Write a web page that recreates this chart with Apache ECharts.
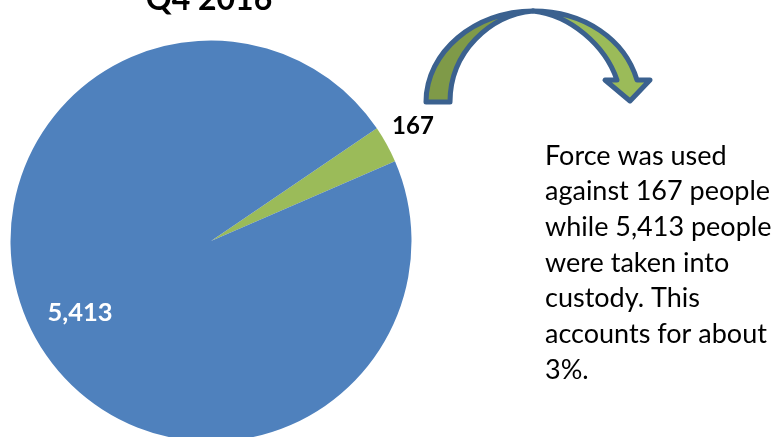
<!DOCTYPE html>
<html>
<head>
<meta charset="utf-8">
<style>html,body{margin:0;padding:0;background:#fff}#c{width:774px;height:437px;overflow:hidden}</style>
<script src="https://cdn.jsdelivr.net/npm/echarts@6/dist/echarts.min.js"></script>
</head>
<body>
<div id="c"></div>
<script>
var categories = ['Force used', 'Taken into custody'];
var values = [167, 5413];
var valueLabels = ['167', '5,413'];
var titleText = 'Q4 2016';
var noteLines = ['Force was used', 'against 167 people', 'while 5,413 people', 'were taken into', 'custody. This', 'accounts for about', '3%.'];
var colors = ['#9BBB59', '#4F81BD'];
var FONT = 'Lato, "Open Sans", sans-serif';

echarts.graphic.registerShape('arrowTail', echarts.graphic.extendPath(
  'M426,102 C426,52 475,11 533,11 C490,15 450,52 450,102 Z'));
echarts.graphic.registerShape('arrowHead', echarts.graphic.extendPath(
  'M533,11 C585,11 625,40 637,80 L650,80 L630,101 L605,80 L617,80 C605,45 570,15 533,11 Z'));

var chart = echarts.init(document.getElementById('c'), null, {renderer: 'canvas'});
var labelPos = [{x: 413, y: 126}, {x: 80, y: 313}];
chart.setOption({
  animation: false,
  title: {
    text: titleText, left: 204, top: -21, textAlign: 'center',
    textStyle: {fontFamily: FONT, fontSize: 32, fontWeight: 'bold', color: '#000'}
  },
  series: [{
    type: 'pie',
    center: [211, 241],
    radius: [0, 200.5],
    startAngle: 34.2,
    clockwise: true,
    silent: true,
    avoidLabelOverlap: false,
    data: categories.map(function (c, i) {
      return {
        name: c, value: values[i],
        itemStyle: {color: colors[i]},
        label: {
          color: i === 0 ? '#000' : '#fff',
          position: i === 0 ? 'outside' : 'inside',
          fontSize: i === 0 ? 24 : 25.5
        }
      };
    }),
    label: {
      show: true,
      formatter: function (p) { return valueLabels[p.dataIndex]; },
      fontFamily: FONT, fontWeight: 'bold'
    },
    labelLine: {show: false},
    labelLayout: function (p) {
      return {x: labelPos[p.dataIndex].x, y: labelPos[p.dataIndex].y, align: 'center', verticalAlign: 'middle'};
    }
  }],
  graphic: [
    {
      type: 'arrowTail',
      style: {fill: '#7F9A48', stroke: '#3B618F', lineWidth: 5, lineJoin: 'round'}
    },
    {
      type: 'arrowHead',
      style: {fill: '#9BBB59', stroke: '#3B618F', lineWidth: 5, lineJoin: 'round'}
    },
    {
      type: 'text', left: 545, top: 138,
      style: {
        text: noteLines.join('\n'), fontFamily: FONT, fontSize: 27,
        lineHeight: 35.7, fill: '#000'
      }
    }
  ]
});
</script>
</body>
</html>
